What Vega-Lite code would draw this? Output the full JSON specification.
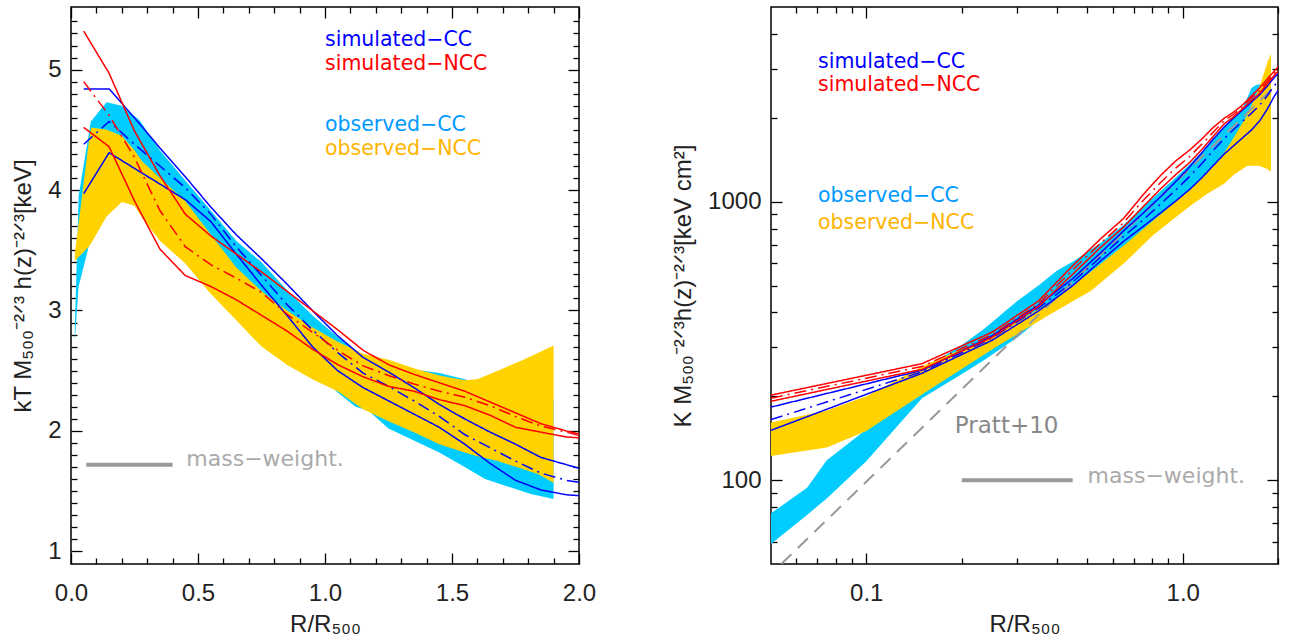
{
  "$schema": "https://vega.github.io/schema/vega-lite/v6.json",
  "background": "white",
  "padding": {"left": 10, "top": 5, "right": 5, "bottom": 5},
  "config": {
    "view": {"stroke": "#000", "strokeWidth": 1.5},
    "font": "Liberation Sans",
    "axis": {"domain": false, "grid": false, "tickColor": "#000", "tickWidth": 1.3, "labelFont": "Liberation Sans", "labelFontSize": 24, "labelColor": "#222", "labelFlush": false, "labelOverlap": false, "labelBound": false, "titleFont": "Liberation Sans", "titleFontSize": 24, "titleFontWeight": "normal", "titleColor": "#222"}
  },
  "datasets": {
    "Llines": [
      {"x": 0.05, "cc_hi": 4.84, "cc_med": 4.38, "cc_lo": 3.97, "ncc_hi": 5.32, "ncc_med": 4.90, "ncc_lo": 4.52},
      {"x": 0.15, "cc_hi": 4.84, "cc_med": 4.57, "cc_lo": 4.31, "ncc_hi": 4.97, "ncc_med": 4.62, "ncc_lo": 4.36},
      {"x": 0.25, "cc_hi": 4.60, "cc_med": 4.38, "cc_lo": 4.18, "ncc_hi": 4.49, "ncc_med": 4.27, "ncc_lo": 3.91},
      {"x": 0.35, "cc_hi": 4.35, "cc_med": 4.20, "cc_lo": 4.05, "ncc_hi": 4.12, "ncc_med": 3.83, "ncc_lo": 3.51},
      {"x": 0.45, "cc_hi": 4.11, "cc_med": 4.02, "cc_lo": 3.92, "ncc_hi": 3.80, "ncc_med": 3.53, "ncc_lo": 3.29},
      {"x": 0.55, "cc_hi": 3.86, "cc_med": 3.80, "cc_lo": 3.74, "ncc_hi": 3.62, "ncc_med": 3.38, "ncc_lo": 3.20},
      {"x": 0.65, "cc_hi": 3.63, "cc_med": 3.53, "cc_lo": 3.47, "ncc_hi": 3.47, "ncc_med": 3.27, "ncc_lo": 3.09},
      {"x": 0.75, "cc_hi": 3.43, "cc_med": 3.29, "cc_lo": 3.21, "ncc_hi": 3.32, "ncc_med": 3.15, "ncc_lo": 2.96},
      {"x": 0.85, "cc_hi": 3.22, "cc_med": 3.05, "cc_lo": 2.96, "ncc_hi": 3.16, "ncc_med": 2.97, "ncc_lo": 2.83},
      {"x": 0.95, "cc_hi": 3.00, "cc_med": 2.84, "cc_lo": 2.70, "ncc_hi": 3.00, "ncc_med": 2.82, "ncc_lo": 2.68},
      {"x": 1.05, "cc_hi": 2.79, "cc_med": 2.65, "cc_lo": 2.50, "ncc_hi": 2.84, "ncc_med": 2.67, "ncc_lo": 2.55},
      {"x": 1.15, "cc_hi": 2.61, "cc_med": 2.48, "cc_lo": 2.36, "ncc_hi": 2.67, "ncc_med": 2.54, "ncc_lo": 2.45},
      {"x": 1.25, "cc_hi": 2.49, "cc_med": 2.37, "cc_lo": 2.25, "ncc_hi": 2.55, "ncc_med": 2.46, "ncc_lo": 2.37},
      {"x": 1.35, "cc_hi": 2.36, "cc_med": 2.25, "cc_lo": 2.14, "ncc_hi": 2.47, "ncc_med": 2.39, "ncc_lo": 2.33},
      {"x": 1.45, "cc_hi": 2.22, "cc_med": 2.12, "cc_lo": 2.03, "ncc_hi": 2.40, "ncc_med": 2.33, "ncc_lo": 2.26},
      {"x": 1.55, "cc_hi": 2.10, "cc_med": 1.97, "cc_lo": 1.89, "ncc_hi": 2.33, "ncc_med": 2.28, "ncc_lo": 2.21},
      {"x": 1.65, "cc_hi": 1.99, "cc_med": 1.86, "cc_lo": 1.73, "ncc_hi": 2.24, "ncc_med": 2.21, "ncc_lo": 2.13},
      {"x": 1.75, "cc_hi": 1.89, "cc_med": 1.75, "cc_lo": 1.59, "ncc_hi": 2.15, "ncc_med": 2.12, "ncc_lo": 2.03},
      {"x": 1.85, "cc_hi": 1.78, "cc_med": 1.65, "cc_lo": 1.51, "ncc_hi": 2.06, "ncc_med": 2.04, "ncc_lo": 1.99},
      {"x": 1.95, "cc_hi": 1.72, "cc_med": 1.59, "cc_lo": 1.47, "ncc_hi": 2.00, "ncc_med": 1.99, "ncc_lo": 1.95},
      {"x": 2.05, "cc_hi": 1.66, "cc_med": 1.555, "cc_lo": 1.455, "ncc_hi": 1.95, "ncc_med": 1.935, "ncc_lo": 1.935}
    ],
    "Lcc": [
      {"x": 0.015, "lo": 2.75, "hi": 2.85}, {"x": 0.03, "lo": 3.2, "hi": 3.95}, {"x": 0.078, "lo": 3.6, "hi": 4.57},
      {"x": 0.14, "lo": 3.95, "hi": 4.73}, {"x": 0.2, "lo": 4.0, "hi": 4.70}, {"x": 0.27, "lo": 3.88, "hi": 4.58},
      {"x": 0.35, "lo": 3.75, "hi": 4.33}, {"x": 0.45, "lo": 3.58, "hi": 4.08}, {"x": 0.55, "lo": 3.40, "hi": 3.83},
      {"x": 0.65, "lo": 3.20, "hi": 3.58}, {"x": 0.75, "lo": 3.00, "hi": 3.40}, {"x": 0.85, "lo": 2.76, "hi": 3.17},
      {"x": 0.95, "lo": 2.52, "hi": 2.96}, {"x": 1.05, "lo": 2.32, "hi": 2.78}, {"x": 1.12, "lo": 2.20, "hi": 2.67},
      {"x": 1.17, "lo": 2.17, "hi": 2.61}, {"x": 1.25, "lo": 2.02, "hi": 2.57}, {"x": 1.35, "lo": 1.92, "hi": 2.51},
      {"x": 1.45, "lo": 1.82, "hi": 2.48}, {"x": 1.55, "lo": 1.70, "hi": 2.43}, {"x": 1.63, "lo": 1.60, "hi": 2.38},
      {"x": 1.71, "lo": 1.545, "hi": 2.34}, {"x": 1.81, "lo": 1.476, "hi": 2.29}, {"x": 1.9, "lo": 1.434, "hi": 2.26}
    ],
    "Lncc": [
      {"x": 0.015, "lo": 3.41, "hi": 3.47}, {"x": 0.07, "lo": 3.53, "hi": 4.40}, {"x": 0.08, "lo": 3.56, "hi": 4.52},
      {"x": 0.14, "lo": 3.78, "hi": 4.50}, {"x": 0.2, "lo": 3.90, "hi": 4.45}, {"x": 0.25, "lo": 3.87, "hi": 4.33},
      {"x": 0.28, "lo": 3.77, "hi": 4.24}, {"x": 0.35, "lo": 3.58, "hi": 4.10}, {"x": 0.45, "lo": 3.39, "hi": 3.91},
      {"x": 0.55, "lo": 3.14, "hi": 3.63}, {"x": 0.65, "lo": 2.92, "hi": 3.36}, {"x": 0.75, "lo": 2.70, "hi": 3.16},
      {"x": 0.85, "lo": 2.55, "hi": 3.00}, {"x": 0.95, "lo": 2.43, "hi": 2.86}, {"x": 1.05, "lo": 2.33, "hi": 2.74},
      {"x": 1.15, "lo": 2.18, "hi": 2.64}, {"x": 1.25, "lo": 2.08, "hi": 2.59}, {"x": 1.35, "lo": 1.99, "hi": 2.52},
      {"x": 1.45, "lo": 1.89, "hi": 2.46}, {"x": 1.55, "lo": 1.82, "hi": 2.42}, {"x": 1.6, "lo": 1.79, "hi": 2.43},
      {"x": 1.68, "lo": 1.75, "hi": 2.50}, {"x": 1.77, "lo": 1.69, "hi": 2.58}, {"x": 1.84, "lo": 1.64, "hi": 2.65},
      {"x": 1.9, "lo": 1.57, "hi": 2.71}
    ],
    "Rlines": [
      {"x": 0.05, "cc_hi": 183, "cc_med": 165, "cc_lo": 151, "ncc_hi": 202, "ncc_med": 197, "ncc_lo": 192},
      {"x": 0.15, "cc_hi": 248, "cc_med": 245, "cc_lo": 242, "ncc_hi": 262, "ncc_med": 256, "ncc_lo": 250},
      {"x": 0.25, "cc_hi": 330, "cc_med": 324, "cc_lo": 318, "ncc_hi": 340, "ncc_med": 333, "ncc_lo": 326},
      {"x": 0.35, "cc_hi": 425, "cc_med": 415, "cc_lo": 405, "ncc_hi": 440, "ncc_med": 430, "ncc_lo": 420},
      {"x": 0.45, "cc_hi": 530, "cc_med": 515, "cc_lo": 500, "ncc_hi": 590, "ncc_med": 570, "ncc_lo": 550},
      {"x": 0.55, "cc_hi": 655, "cc_med": 632, "cc_lo": 612, "ncc_hi": 735, "ncc_med": 710, "ncc_lo": 685},
      {"x": 0.65, "cc_hi": 785, "cc_med": 750, "cc_lo": 720, "ncc_hi": 870, "ncc_med": 840, "ncc_lo": 810},
      {"x": 0.75, "cc_hi": 910, "cc_med": 860, "cc_lo": 815, "ncc_hi": 1060, "ncc_med": 1010, "ncc_lo": 960},
      {"x": 0.85, "cc_hi": 1040, "cc_med": 980, "cc_lo": 910, "ncc_hi": 1240, "ncc_med": 1170, "ncc_lo": 1110},
      {"x": 0.95, "cc_hi": 1180, "cc_med": 1100, "cc_lo": 1005, "ncc_hi": 1400, "ncc_med": 1320, "ncc_lo": 1250},
      {"x": 1.05, "cc_hi": 1330, "cc_med": 1230, "cc_lo": 1105, "ncc_hi": 1530, "ncc_med": 1450, "ncc_lo": 1380},
      {"x": 1.15, "cc_hi": 1500, "cc_med": 1370, "cc_lo": 1220, "ncc_hi": 1680, "ncc_med": 1610, "ncc_lo": 1540},
      {"x": 1.25, "cc_hi": 1680, "cc_med": 1530, "cc_lo": 1350, "ncc_hi": 1850, "ncc_med": 1780, "ncc_lo": 1720},
      {"x": 1.35, "cc_hi": 1850, "cc_med": 1680, "cc_lo": 1480, "ncc_hi": 1990, "ncc_med": 1950, "ncc_lo": 1900},
      {"x": 1.45, "cc_hi": 2000, "cc_med": 1820, "cc_lo": 1590, "ncc_hi": 2100, "ncc_med": 2060, "ncc_lo": 2020},
      {"x": 1.55, "cc_hi": 2140, "cc_med": 1950, "cc_lo": 1700, "ncc_hi": 2230, "ncc_med": 2200, "ncc_lo": 2160},
      {"x": 1.65, "cc_hi": 2280, "cc_med": 2080, "cc_lo": 1810, "ncc_hi": 2400, "ncc_med": 2360, "ncc_lo": 2310},
      {"x": 1.75, "cc_hi": 2420, "cc_med": 2220, "cc_lo": 1950, "ncc_hi": 2560, "ncc_med": 2500, "ncc_lo": 2450},
      {"x": 1.85, "cc_hi": 2600, "cc_med": 2400, "cc_lo": 2150, "ncc_hi": 2760, "ncc_med": 2700, "ncc_lo": 2650},
      {"x": 1.95, "cc_hi": 2800, "cc_med": 2620, "cc_lo": 2400, "ncc_hi": 2950, "ncc_med": 2900, "ncc_lo": 2850},
      {"x": 2.05, "cc_hi": 2950, "cc_med": 2780, "cc_lo": 2600, "ncc_hi": 3150, "ncc_med": 3080, "ncc_lo": 3020}
    ],
    "Rcc": [
      {"x": 0.05, "lo": 59, "hi": 76}, {"x": 0.065, "lo": 75, "hi": 94}, {"x": 0.075, "lo": 86, "hi": 118},
      {"x": 0.1, "lo": 117, "hi": 152}, {"x": 0.15, "lo": 197, "hi": 250}, {"x": 0.2, "lo": 240, "hi": 305},
      {"x": 0.236, "lo": 270, "hi": 350}, {"x": 0.3, "lo": 325, "hi": 440}, {"x": 0.35, "lo": 375, "hi": 500},
      {"x": 0.4, "lo": 425, "hi": 565}, {"x": 0.45, "lo": 475, "hi": 610}, {"x": 0.55, "lo": 575, "hi": 710},
      {"x": 0.65, "lo": 670, "hi": 825}, {"x": 0.75, "lo": 770, "hi": 960}, {"x": 0.85, "lo": 860, "hi": 1090},
      {"x": 0.95, "lo": 950, "hi": 1220}, {"x": 1.05, "lo": 1050, "hi": 1360}, {"x": 1.15, "lo": 1150, "hi": 1510},
      {"x": 1.25, "lo": 1260, "hi": 1690}, {"x": 1.35, "lo": 1380, "hi": 1850}, {"x": 1.45, "lo": 1500, "hi": 2000},
      {"x": 1.55, "lo": 1630, "hi": 2180}, {"x": 1.65, "lo": 1750, "hi": 2560}, {"x": 1.7, "lo": 1800, "hi": 2620},
      {"x": 1.9, "lo": 2000, "hi": 2700}
    ],
    "Rncc": [
      {"x": 0.05, "lo": 122, "hi": 161}, {"x": 0.075, "lo": 131, "hi": 178}, {"x": 0.1, "lo": 150, "hi": 200},
      {"x": 0.156, "lo": 209, "hi": 262}, {"x": 0.26, "lo": 303, "hi": 335}, {"x": 0.374, "lo": 389, "hi": 430},
      {"x": 0.512, "lo": 478, "hi": 560}, {"x": 0.655, "lo": 603, "hi": 700}, {"x": 0.802, "lo": 755, "hi": 850},
      {"x": 0.95, "lo": 880, "hi": 1000}, {"x": 1.057, "lo": 967, "hi": 1110}, {"x": 1.2, "lo": 1070, "hi": 1290},
      {"x": 1.354, "lo": 1161, "hi": 1500}, {"x": 1.45, "lo": 1250, "hi": 1700}, {"x": 1.6, "lo": 1347, "hi": 2050},
      {"x": 1.74, "lo": 1347, "hi": 2550}, {"x": 1.85, "lo": 1310, "hi": 3150}, {"x": 1.9, "lo": 1280, "hi": 3400}
    ],
    "Ltext": [
      {"x": 1.0, "y": 5.199, "t": "simulated−CC", "g": "sim-CC"},
      {"x": 1.0, "y": 4.994, "t": "simulated−NCC", "g": "sim-NCC"},
      {"x": 1.0, "y": 4.494, "t": "observed−CC", "g": "obs-CC"},
      {"x": 1.0, "y": 4.287, "t": "observed−NCC", "g": "obs-NCC"}
    ],
    "Rtext": [
      {"x": 0.0704, "y": 3009, "t": "simulated−CC", "g": "sim-CC"},
      {"x": 0.0704, "y": 2487, "t": "simulated−NCC", "g": "sim-NCC"},
      {"x": 0.0704, "y": 994, "t": "observed−CC", "g": "obs-CC"},
      {"x": 0.0704, "y": 798, "t": "observed−NCC", "g": "obs-NCC"}
    ]
  },
  "hconcat": [
    {
      "width": 508,
      "height": 557,
      "resolve": {"axis": {"x": "independent", "y": "independent"}, "scale": {"color": "independent"}},
      "layer": [
        {
          "data": {"name": "Lcc"},
          "mark": {"type": "area", "color": "#00ccff", "clip": true},
          "encoding": {
            "x": {"field": "x", "type": "quantitative", "scale": {"domain": [0, 2], "nice": false, "zero": false},
              "axis": {"orient": "bottom", "values": [0,0.1,0.2,0.3,0.4,0.5,0.6,0.7,0.8,0.9,1,1.1,1.2,1.3,1.4,1.5,1.6,1.7,1.8,1.9,2],
                "tickSize": {"condition": {"test": "abs(datum.value*2-round(datum.value*2))<0.001", "value": -11}, "value": -6},
                "labelExpr": "abs(datum.value*2-round(datum.value*2))<0.001 ? format(datum.value,'.1f') : ''",
                "labelPadding": 28, "title": "R/R₅₀₀", "titlePadding": 2}},
            "y": {"field": "lo", "type": "quantitative", "scale": {"domain": [0.895, 5.52], "nice": false, "zero": false},
              "axis": {"orient": "left", "values": [1,1.1,1.2,1.3,1.4,1.5,1.6,1.7,1.8,1.9,2,2.1,2.2,2.3,2.4,2.5,2.6,2.7,2.8,2.9,3,3.1,3.2,3.3,3.4,3.5,3.6,3.7,3.8,3.9,4,4.1,4.2,4.3,4.4,4.5,4.6,4.7,4.8,4.9,5,5.1,5.2,5.3,5.4],
                "tickSize": {"condition": {"test": "abs(datum.value-round(datum.value))<0.001", "value": -11}, "value": -6},
                "labelExpr": "abs(datum.value-round(datum.value))<0.001 ? format(datum.value,'d') : ''",
                "labelPadding": 21, "title": "kT  M₅₀₀⁻²ᐟ³ h(z)⁻²ᐟ³[keV]", "titlePadding": 12}},
            "y2": {"field": "hi"}
          }
        },
        {
          "data": {"name": "Lncc"},
          "mark": {"type": "area", "color": "#ffd200", "clip": true},
          "encoding": {
            "x": {"field": "x", "type": "quantitative", "scale": {"domain": [0, 2], "nice": false, "zero": false},
              "axis": {"orient": "top", "values": [0,0.1,0.2,0.3,0.4,0.5,0.6,0.7,0.8,0.9,1,1.1,1.2,1.3,1.4,1.5,1.6,1.7,1.8,1.9,2],
                "tickSize": {"condition": {"test": "abs(datum.value*2-round(datum.value*2))<0.001", "value": -11}, "value": -6},
                "labels": false, "title": null}},
            "y": {"field": "lo", "type": "quantitative", "scale": {"domain": [0.895, 5.52], "nice": false, "zero": false},
              "axis": {"orient": "right", "values": [1,1.1,1.2,1.3,1.4,1.5,1.6,1.7,1.8,1.9,2,2.1,2.2,2.3,2.4,2.5,2.6,2.7,2.8,2.9,3,3.1,3.2,3.3,3.4,3.5,3.6,3.7,3.8,3.9,4,4.1,4.2,4.3,4.4,4.5,4.6,4.7,4.8,4.9,5,5.1,5.2,5.3,5.4],
                "tickSize": {"condition": {"test": "abs(datum.value-round(datum.value))<0.001", "value": -11}, "value": -6},
                "labels": false, "title": null}},
            "y2": {"field": "hi"}
          }
        },
        {
          "data": {"name": "Llines"},
          "transform": [{"fold": ["cc_hi", "cc_med", "cc_lo", "ncc_hi", "ncc_med", "ncc_lo"], "as": ["s", "v"]}],
          "mark": {"type": "line", "strokeWidth": 1.5, "clip": true},
          "encoding": {
            "x": {"field": "x", "type": "quantitative", "scale": {"domain": [0, 2], "nice": false, "zero": false}, "axis": null},
            "y": {"field": "v", "type": "quantitative", "scale": {"domain": [0.895, 5.52], "nice": false, "zero": false}, "axis": null},
            "color": {"field": "s", "type": "nominal", "legend": null, "scale": {"domain": ["cc_hi", "cc_med", "cc_lo", "ncc_hi", "ncc_med", "ncc_lo"], "range": ["#0000ff", "#0000ff", "#0000ff", "#ff0000", "#ff0000", "#ff0000"]}},
            "strokeDash": {"field": "s", "type": "nominal", "legend": null, "scale": {"domain": ["cc_hi", "cc_med", "cc_lo", "ncc_hi", "ncc_med", "ncc_lo"], "range": [[1, 0], [12, 5, 2, 5], [1, 0], [1, 0], [12, 5, 2, 5], [1, 0]]}}
          }
        },
        {
          "data": {"values": [{"x": 0.06, "y": 1.72}, {"x": 0.40, "y": 1.72}]},
          "mark": {"type": "line", "color": "#999999", "strokeWidth": 4},
          "encoding": {
            "x": {"field": "x", "type": "quantitative", "scale": {"domain": [0, 2], "nice": false, "zero": false}, "axis": null},
            "y": {"field": "y", "type": "quantitative", "scale": {"domain": [0.895, 5.52], "nice": false, "zero": false}, "axis": null}
          }
        },
        {
          "data": {"values": [{"x": 0.454, "y": 1.711, "t": "mass−weight."}]},
          "mark": {"type": "text", "align": "left", "baseline": "alphabetic", "fontSize": 22, "font": "DejaVu Sans", "color": "#aaaaaa"},
          "encoding": {
            "x": {"field": "x", "type": "quantitative", "scale": {"domain": [0, 2], "nice": false, "zero": false}, "axis": null},
            "y": {"field": "y", "type": "quantitative", "scale": {"domain": [0.895, 5.52], "nice": false, "zero": false}, "axis": null},
            "text": {"field": "t"}
          }
        },
        {
          "data": {"name": "Ltext"},
          "mark": {"type": "text", "align": "left", "baseline": "alphabetic", "fontSize": 20.5, "font": "DejaVu Sans"},
          "encoding": {
            "x": {"field": "x", "type": "quantitative", "scale": {"domain": [0, 2], "nice": false, "zero": false}, "axis": null},
            "y": {"field": "y", "type": "quantitative", "scale": {"domain": [0.895, 5.52], "nice": false, "zero": false}, "axis": null},
            "text": {"field": "t"},
            "color": {"field": "g", "type": "nominal", "legend": null, "scale": {"domain": ["sim-CC", "sim-NCC", "obs-CC", "obs-NCC"], "range": ["#0000ff", "#ff0000", "#0099ff", "#ffb400"]}}
          }
        }
      ]
    },
    {
      "width": 507,
      "height": 557,
      "resolve": {"axis": {"x": "independent", "y": "independent"}, "scale": {"color": "independent"}},
      "layer": [
        {
          "data": {"name": "Rcc"},
          "mark": {"type": "area", "color": "#00ccff", "clip": true},
          "encoding": {
            "x": {"field": "x", "type": "quantitative", "scale": {"type": "log", "domain": [0.05, 2], "nice": false},
              "axis": {"orient": "bottom", "values": [0.06,0.07,0.08,0.09,0.1,0.2,0.3,0.4,0.5,0.6,0.7,0.8,0.9,1,2],
                "tickSize": {"condition": {"test": "datum.value == 0.1 || datum.value == 1", "value": -11}, "value": -6},
                "labelExpr": "datum.value == 0.1 ? '0.1' : datum.value == 1 ? '1.0' : ''",
                "labelPadding": 28, "title": "R/R₅₀₀", "titlePadding": 2}},
            "y": {"field": "lo", "type": "quantitative", "scale": {"type": "log", "domain": [50, 5000], "nice": false},
              "axis": {"orient": "left", "values": [60,70,80,90,100,200,300,400,500,600,700,800,900,1000,2000,3000,4000],
                "tickSize": {"condition": {"test": "datum.value == 100 || datum.value == 1000", "value": -11}, "value": -6},
                "labelExpr": "datum.value == 100 || datum.value == 1000 ? format(datum.value,'d') : ''",
                "labelPadding": 21, "title": "K  M₅₀₀⁻²ᐟ³h(z)⁻²ᐟ³[keV cm²]", "titlePadding": 12}},
            "y2": {"field": "hi"}
          }
        },
        {
          "data": {"name": "Rncc"},
          "mark": {"type": "area", "color": "#ffd200", "clip": true},
          "encoding": {
            "x": {"field": "x", "type": "quantitative", "scale": {"type": "log", "domain": [0.05, 2], "nice": false},
              "axis": {"orient": "top", "values": [0.06,0.07,0.08,0.09,0.1,0.2,0.3,0.4,0.5,0.6,0.7,0.8,0.9,1,2],
                "tickSize": {"condition": {"test": "datum.value == 0.1 || datum.value == 1", "value": -11}, "value": -6},
                "labels": false, "title": null}},
            "y": {"field": "lo", "type": "quantitative", "scale": {"type": "log", "domain": [50, 5000], "nice": false},
              "axis": {"orient": "right", "values": [60,70,80,90,100,200,300,400,500,600,700,800,900,1000,2000,3000,4000],
                "tickSize": {"condition": {"test": "datum.value == 100 || datum.value == 1000", "value": -11}, "value": -6},
                "labels": false, "title": null}},
            "y2": {"field": "hi"}
          }
        },
        {
          "data": {"values": [{"x": 0.0539, "y": 50}, {"x": 1.9, "y": 2517}]},
          "mark": {"type": "line", "color": "#999999", "strokeWidth": 2, "strokeDash": [14, 9], "clip": true},
          "encoding": {
            "x": {"field": "x", "type": "quantitative", "scale": {"type": "log", "domain": [0.05, 2], "nice": false}, "axis": null},
            "y": {"field": "y", "type": "quantitative", "scale": {"type": "log", "domain": [50, 5000], "nice": false}, "axis": null}
          }
        },
        {
          "data": {"name": "Rlines"},
          "transform": [{"fold": ["cc_hi", "cc_med", "cc_lo", "ncc_hi", "ncc_med", "ncc_lo"], "as": ["s", "v"]}],
          "mark": {"type": "line", "strokeWidth": 1.5, "clip": true},
          "encoding": {
            "x": {"field": "x", "type": "quantitative", "scale": {"type": "log", "domain": [0.05, 2], "nice": false}, "axis": null},
            "y": {"field": "v", "type": "quantitative", "scale": {"type": "log", "domain": [50, 5000], "nice": false}, "axis": null},
            "color": {"field": "s", "type": "nominal", "legend": null, "scale": {"domain": ["cc_hi", "cc_med", "cc_lo", "ncc_hi", "ncc_med", "ncc_lo"], "range": ["#0000ff", "#0000ff", "#0000ff", "#ff0000", "#ff0000", "#ff0000"]}},
            "strokeDash": {"field": "s", "type": "nominal", "legend": null, "scale": {"domain": ["cc_hi", "cc_med", "cc_lo", "ncc_hi", "ncc_med", "ncc_lo"], "range": [[1, 0], [12, 5, 2, 5], [1, 0], [1, 0], [12, 5, 2, 5], [1, 0]]}}
          }
        },
        {
          "data": {"values": [{"x": 0.2004, "y": 100}, {"x": 0.449, "y": 100}]},
          "mark": {"type": "line", "color": "#999999", "strokeWidth": 4},
          "encoding": {
            "x": {"field": "x", "type": "quantitative", "scale": {"type": "log", "domain": [0.05, 2], "nice": false}, "axis": null},
            "y": {"field": "y", "type": "quantitative", "scale": {"type": "log", "domain": [50, 5000], "nice": false}, "axis": null}
          }
        },
        {
          "data": {"values": [{"x": 0.1905, "y": 147.9, "t": "Pratt+10"}, {"x": 0.5005, "y": 97.8, "t": "mass−weight."}]},
          "mark": {"type": "text", "align": "left", "baseline": "alphabetic", "font": "DejaVu Sans"},
          "encoding": {
            "x": {"field": "x", "type": "quantitative", "scale": {"type": "log", "domain": [0.05, 2], "nice": false}, "axis": null},
            "y": {"field": "y", "type": "quantitative", "scale": {"type": "log", "domain": [50, 5000], "nice": false}, "axis": null},
            "text": {"field": "t"},
            "color": {"field": "t", "type": "nominal", "legend": null, "scale": {"domain": ["Pratt+10", "mass−weight."], "range": ["#888888", "#aaaaaa"]}},
            "size": {"field": "t", "type": "nominal", "legend": null, "scale": {"domain": ["Pratt+10", "mass−weight."], "range": [23, 22]}}
          }
        },
        {
          "data": {"name": "Rtext"},
          "mark": {"type": "text", "align": "left", "baseline": "alphabetic", "fontSize": 20.5, "font": "DejaVu Sans"},
          "encoding": {
            "x": {"field": "x", "type": "quantitative", "scale": {"type": "log", "domain": [0.05, 2], "nice": false}, "axis": null},
            "y": {"field": "y", "type": "quantitative", "scale": {"type": "log", "domain": [50, 5000], "nice": false}, "axis": null},
            "text": {"field": "t"},
            "color": {"field": "g", "type": "nominal", "legend": null, "scale": {"domain": ["sim-CC", "sim-NCC", "obs-CC", "obs-NCC"], "range": ["#0000ff", "#ff0000", "#0099ff", "#ffb400"]}}
          }
        }
      ]
    }
  ],
  "spacing": 192,
  "bounds": "flush"
}
